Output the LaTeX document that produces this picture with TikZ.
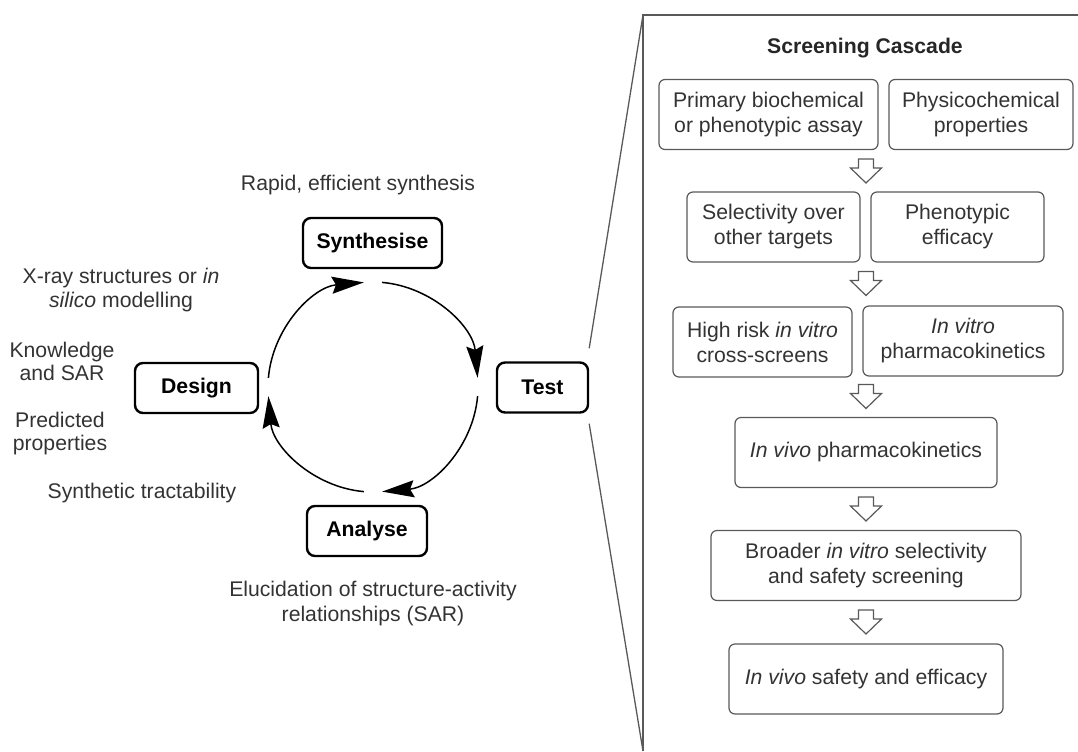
\documentclass[tikz,border=0pt]{standalone}
\usepackage{fontspec}
\setmainfont{Liberation Sans}
\usepackage[dvipsnames,svgnames]{xcolor}
\usetikzlibrary{arrows.meta}

\begin{document}
\fontsize{10.6}{11.8}\selectfont
\begin{tikzpicture}[x=0.5pt,y=0.5pt,
   stage/.style={draw=black,line width=1.2pt,rounded corners=4pt,font=\bfseries,
      minimum height=25pt,inner sep=0pt},
   cbox/.style={draw=gray!70!black,line width=0.6pt,rounded corners=3pt,
      minimum height=35pt,inner sep=0pt,align=center,text=black!80,
      font=\fontsize{10.6}{12.5}\selectfont},
   note/.style={align=center,text=black!80},
   cyc/.style={line width=0.75pt,-{Stealth[length=16pt,width=8.5pt,inset=2pt]}},
   panel/.style={gray!70!black,line width=0.65pt},
   hollow/.pic={\draw[gray!70!black,line width=0.6pt,fill=white]
      (-7.5,12) -- (7.5,12) -- (7.5,3) -- (15.5,3) -- (0,-12)
      -- (-15.5,3) -- (-7.5,3) -- cycle;}]
   \useasboundingbox (0,0) rectangle (1078,-751);
   % fixed points
   \coordinate (O)  at (373,-387);
   \coordinate (pn) at (643,-15);
   \coordinate (pe) at (1078,-15);
   \coordinate (ps) at (643,-751);
   % design cycle
   \node[stage,minimum width=69.5pt] (syn)  at (372.5,-243) {Synthesise};
   \node[stage,minimum width=45.5pt] (test) at (542.5,-387.5) {Test};
   \node[stage,minimum width=60pt]   (ana)  at (367,-531) {Analyse};
   \node[stage,minimum width=61.5pt] (des)  at (196.5,-388) {Design};
   \draw[cyc] ([shift={(85:52.5pt)}]O)   arc[start angle=85,end angle=5,radius=52.5pt];
   \draw[cyc] ([shift={(-5:52.5pt)}]O)   arc[start angle=-5,end angle=-85,radius=52.5pt];
   \draw[cyc] ([shift={(-95:52.5pt)}]O)  arc[start angle=-95,end angle=-175,radius=52.5pt];
   \draw[cyc] ([shift={(175:52.5pt)}]O)  arc[start angle=175,end angle=95,radius=52.5pt];
   \node[note] (rapid) at (358,-185) {Rapid, efficient synthesis};
   \node[note] (xray)  at (121,-290) {X-ray structures or \textit{in}\\\textit{silico} modelling};
   \node[note] (know)  at (62,-361.5) {Knowledge\\and SAR};
   \node[note] (pred)  at (60,-433.5) {Predicted\\properties};
   \node[note] (synt)  at (142,-493) {Synthetic tractability};
   \node[note,font=\fontsize{10.6}{12.5}\selectfont] (eluc) at (373,-604)
      {Elucidation of structure-activity\\relationships (SAR)};
   % zoom panel
   \draw[panel] (pe) -- (pn) -- (ps);
   \draw[panel] ([yshift=6.5pt]test.north east) -- (pn);
   \draw[panel] ([yshift=-5pt]test.south east) -- (ps);
   \node[font=\bfseries,text=black!85] (title) at (865,-48) {Screening Cascade};
   \node[cbox,minimum width=109.5pt] (prim)  at (768.5,-114.5) {Primary biochemical\\or phenotypic assay};
   \node[cbox,minimum width=92pt]    (phys)  at (981,-114.5) {Physicochemical\\properties};
   \node[cbox,minimum width=86.5pt]  (sel)   at (773.5,-227) {Selectivity over\\other targets};
   \node[cbox,minimum width=86.5pt]  (phen)  at (957.5,-227) {Phenotypic\\efficacy};
   \node[cbox,minimum width=89.5pt]  (risk)  at (762.5,-342) {High risk \textit{in vitro}\\cross-screens};
   \node[cbox,minimum width=100pt]   (vitpk) at (963,-341) {\textit{In vitro}\\pharmacokinetics};
   \node[cbox,minimum width=131pt]   (vivpk) at (866,-452.5) {\textit{In vivo} pharmacokinetics};
   \node[cbox,minimum width=155pt]   (broad) at (866,-565.5) {Broader \textit{in vitro} selectivity\\and safety screening};
   \node[cbox,minimum width=137pt]   (safe)  at (866,-679) {\textit{In vivo} safety and efficacy};
   \foreach \y in {171,283.5,396.5,509,622}
      \pic at (866,-\y) {hollow};
\end{tikzpicture}
\end{document}
